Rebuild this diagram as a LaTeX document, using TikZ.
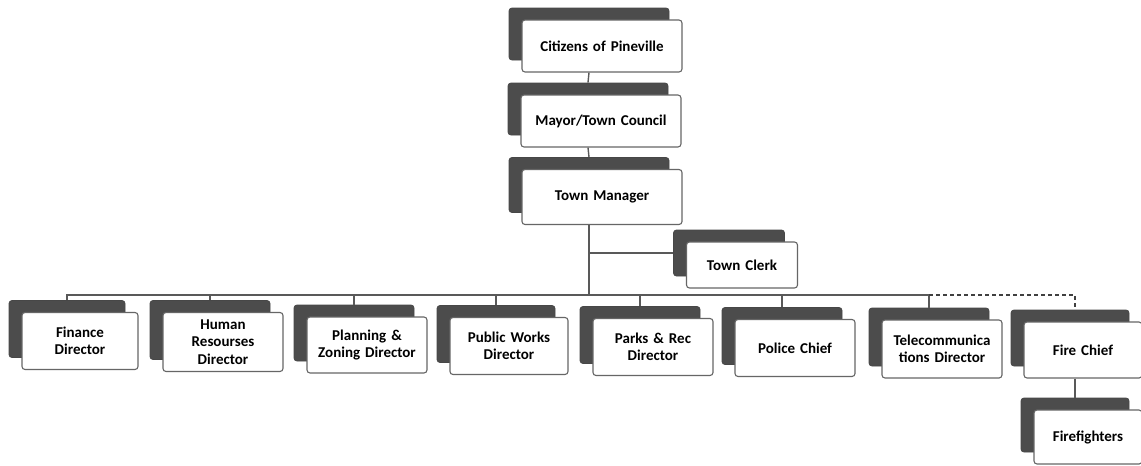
\documentclass[tikz,border=0pt]{standalone}
\usepackage{fontspec}
\setmainfont{Carlito}
\begin{document}
\begin{tikzpicture}[x=1pt,y=-1pt,
  frontbox/.style={draw=black!60,line width=1.1pt,fill=white,rounded corners=3pt,
    align=center,inner sep=0pt,font=\bfseries\fontsize{15}{17.5}\selectfont,
    text=black},
  shadowbox/.style={draw=black!72,line width=0.8pt,fill=black!70,rounded corners=3pt,inner sep=0pt},
  conn/.style={draw=black!65,line width=1.4pt},
  dconn/.style={draw=black!75,line width=1.6pt,dash pattern=on 4pt off 3pt}]
\useasboundingbox[fill=white] (0,0) rectangle (1141,466);
% helper: shadow then front
\newcommand{\orgbox}[6]{% name, cx, cy, w, h, text
  \node[shadowbox,minimum width=#4,minimum height=#5] (#1S) at (#2-13,#3-12) {};
  \node[frontbox,minimum width=#4,minimum height=#5,text width=#4-4] (#1) at (#2,#3) {#6};}
\orgbox{cit}{602}{46}{160}{52}{Citizens of Pineville}
\orgbox{mayor}{601}{121}{160}{52}{Mayor/Town Council}
\orgbox{tm}{602}{197}{160}{55}{Town Manager}
\orgbox{clerk}{742}{265}{111}{46}{Town Clerk}
\orgbox{fin}{80}{341}{116}{57}{Finance\\Director}
\orgbox{hr}{223}{342}{120}{59}{Human\\Resourses\\Director}
\orgbox{plan}{367}{345}{120}{56}{Planning \&\\Zoning Director}
\orgbox{pw}{509}{346}{118}{57}{Public Works\\Director}
\orgbox{parks}{653}{347}{120}{57}{Parks \& Rec\\Director}
\orgbox{police}{795}{348}{120}{57}{Police Chief}
\orgbox{tel}{942}{349}{120}{58}{Telecommunica\\tions Director}
\orgbox{fire}{1083}{350}{118}{56}{Fire Chief}
\orgbox{ff}{1088}{437}{108}{54}{Firefighters}
% connectors
\coordinate (bus) at (590,295);
\draw[conn] (cit.south -| citS) -- (mayorS.north);
\draw[conn] (mayor.south -| mayorS) -- (tmS.north);
\draw[conn] (tm.south -| tmS) -- (tmS |- bus);
\draw[conn] (clerkS.west -| tmS) -- (clerkS.west);
\draw[conn] (finS.north) |- (telS.north |- bus) -- (telS.north);
\draw[conn] (hrS.north) -- (hrS.north |- bus);
\draw[conn] (planS.north) -- (planS.north |- bus);
\draw[conn] (pwS.north) -- (pwS.north |- bus);
\draw[conn] (parksS.north) -- (parksS.north |- bus);
\draw[conn] (policeS.north) -- (policeS.north |- bus);
\draw[dconn] (telS.north |- bus) -| (ffS.north |- fireS.north);
\draw[conn] (ffS.north |- fire.south) -- (ffS.north);
\end{tikzpicture}
\end{document}
